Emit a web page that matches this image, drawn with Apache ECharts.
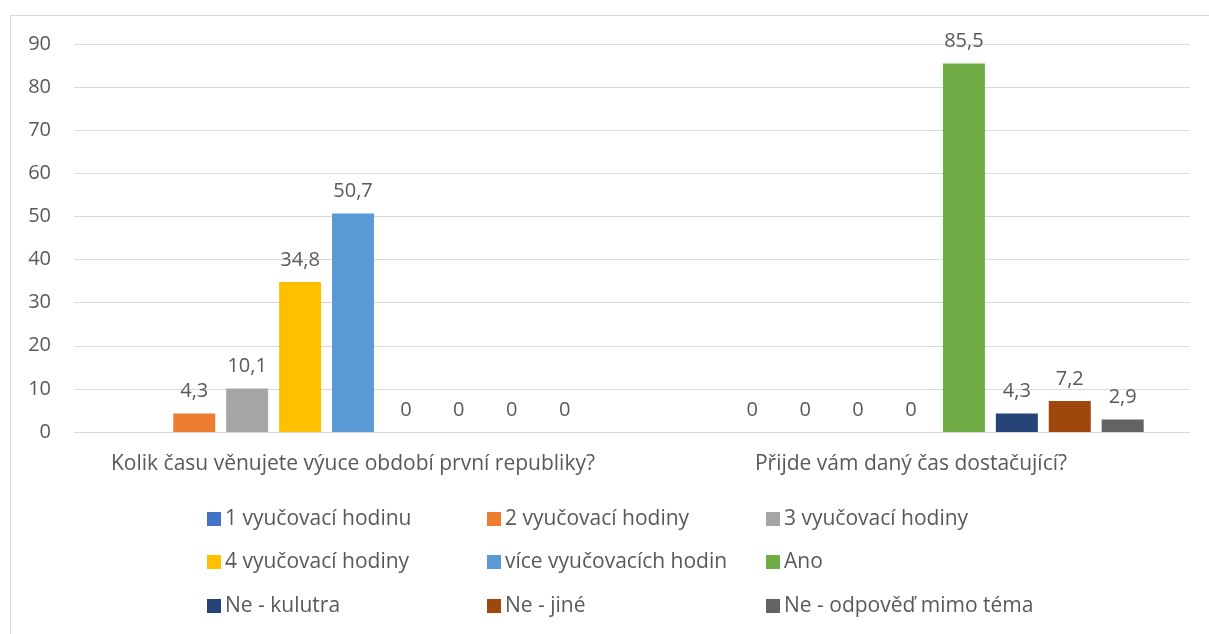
<!DOCTYPE html>
<html><head><meta charset="utf-8">
<script src="https://cdn.jsdelivr.net/npm/echarts@6/dist/echarts.min.js"></script>
<style>html,body{margin:0;padding:0;background:#fff;}#c{width:1209px;height:634px;}</style>
</head><body><div id="c"></div>
<script>
const categories = ['Kolik času věnujete výuce období první republiky?', 'Přijde vám daný čas dostačující?'];
const seriesNames = ['1 vyučovací hodinu', '2 vyučovací hodiny', '3 vyučovací hodiny', '4 vyučovací hodiny', 'více vyučovacích hodin', 'Ano', 'Ne - kulutra', 'Ne - jiné', 'Ne - odpověď mimo téma'];
const s1 = [null, null];
const s2 = [4.3, 0];
const s3 = [10.1, 0];
const s4 = [34.8, 0];
const s5 = [50.7, 0];
const s6 = [0, 85.5];
const s7 = [0, 4.3];
const s8 = [0, 7.2];
const s9 = [0, 2.9];
const seriesValues = [s1, s2, s3, s4, s5, s6, s7, s8, s9];
const colors = ['#4472C4', '#ED7D31', '#A5A5A5', '#FFC000', '#5B9BD5', '#70AD47', '#264478', '#9E480E', '#636363'];
const yTicks = [0, 10, 20, 30, 40, 50, 60, 70, 80, 90];

const FONT = 'Open Sans';
const FS = 20;
const FS_TXT = 21;
const TXT = '#595959';

const chart = echarts.init(document.getElementById('c'));
const legendPos = [[207, 507], [487, 507], [766, 507], [207, 550], [487, 550], [766, 550], [207, 594], [487, 594], [766, 594]];
const option = {
  animation: false,
  color: colors,
  graphic: [{type: 'rect', shape: {x: 10.5, y: 15.5, width: 1300, height: 700}, style: {fill: 'none', stroke: '#d9d9d9', lineWidth: 1}, z: -1}],
  grid: {left: 74, right: 19, top: 44, bottom: 202},
  legend: seriesNames.map((n, i) => ({
    data: [n], left: legendPos[i][0], top: legendPos[i][1] + 1, padding: 0,
    itemWidth: 14, itemHeight: 14, itemGap: 0, icon: 'rect',
    textStyle: {fontFamily: FONT, fontSize: FS_TXT, color: TXT, lineHeight: 22, padding: [0, 0, 0, -1]},
    selectedMode: false
  })),
  xAxis: {
    type: 'category', data: categories,
    axisTick: {show: false},
    axisLine: {lineStyle: {color: '#d9d9d9', width: 1}},
    axisLabel: {fontFamily: FONT, fontSize: FS_TXT, color: TXT, margin: 22, interval: 0}
  },
  yAxis: {
    type: 'value', min: yTicks[0], max: yTicks[yTicks.length - 1], interval: 10,
    axisLine: {show: false}, axisTick: {show: false},
    splitLine: {lineStyle: {color: '#d9d9d9', width: 1}},
    axisLabel: {fontFamily: FONT, fontSize: FS, color: TXT, margin: 23}
  },
  series: seriesNames.map((n, i) => ({
    name: n, type: 'bar', data: seriesValues[i],
    barWidth: 42, barGap: '26%',
    itemStyle: {color: colors[i]},
    label: {
      show: true, position: 'top', distance: 12,
      fontFamily: FONT, fontSize: FS, color: TXT,
      formatter: p => (p.value === null || p.value === undefined) ? '' : String(p.value).replace('.', ',')
    }
  }))
};
chart.setOption(option);
</script></body></html>
